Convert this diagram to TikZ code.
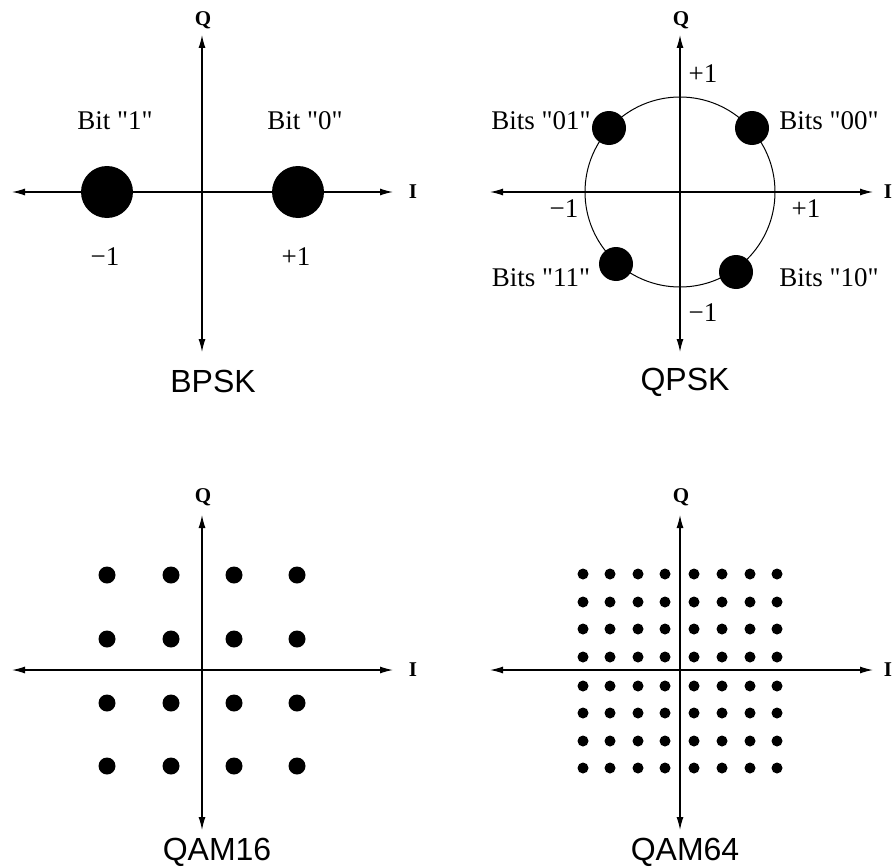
\documentclass[tikz,border=0pt]{standalone}
\usepackage{fontspec}
\setmainfont{Liberation Serif}
\newfontfamily\titlefont{Liberation Sans}
\usetikzlibrary{arrows.meta}
\newcommand{\dq}{\textquotedbl}
\begin{document}
\begin{tikzpicture}[x=1pt,y=-1pt,
  axisline/.style={line width=1.2pt,{Latex[length=13pt,width=7pt]}-{Latex[length=13pt,width=7pt]}},
  bigdot/.style={circle,fill=black,inner sep=0pt,minimum size=52pt},
  middot/.style={circle,fill=black,inner sep=0pt,minimum size=34pt},
  qdot/.style={circle,fill=black,inner sep=0pt,minimum size=17pt},
  sdot/.style={circle,fill=black,inner sep=0pt,minimum size=11pt},
  lbl/.style={inner sep=0pt,font=\fontsize{27}{31}\selectfont},
  axlbl/.style={inner sep=0pt,font=\fontsize{21}{24}\selectfont\bfseries},
  title/.style={inner sep=0pt,font=\titlefont\fontsize{32}{36}\selectfont}]
\useasboundingbox (0,0) rectangle (894,867);
% ---------- BPSK ----------
\coordinate (a1l) at (12,192); \coordinate (a1r) at (393,192);
\coordinate (a1t) at (202,35); \coordinate (a1b) at (202,352);
\draw[axisline] (a1l) -- (a1r);
\draw[axisline] (a1t) -- (a1b);
\node[axlbl] (q1) at (203,20) {Q};
\node[axlbl] (i1) at (413,192) {I};
\node[bigdot] (b1) at (107,192) {};
\node[bigdot] (b0) at (298,192) {};
\node[lbl] (tb1) at (115,121) {Bit \dq1\dq};
\node[lbl] (tb0) at (305,121) {Bit \dq0\dq};
\node[lbl] (m1) at (105,257) {−1};
\node[lbl] (p1) at (296,257) {+1};
\node[title] (t1) at (213,381) {BPSK};
% ---------- QPSK ----------
\coordinate (a2l) at (490,192); \coordinate (a2r) at (873,192);
\coordinate (a2t) at (680,35); \coordinate (a2b) at (680,352);
\draw[axisline] (a2l) -- (a2r);
\draw[axisline] (a2t) -- (a2b);
\node[draw,circle,line width=1pt,minimum size=190pt,inner sep=0pt] (circ) at (680,192) {};
\node[axlbl] (q2) at (681,20) {Q};
\node[axlbl] (i2) at (888,192) {I};
\node[middot] (s01) at (609,128) {};
\node[middot] (s00) at (752,128) {};
\node[middot] (s11) at (616,264) {};
\node[middot] (s10) at (736,272) {};
\node[lbl] (l01) at (541,121) {Bits \dq01\dq};
\node[lbl] (l00) at (829,121) {Bits \dq00\dq};
\node[lbl] (l11) at (541,278) {Bits \dq11\dq};
\node[lbl] (l10) at (829,278) {Bits \dq10\dq};
\node[lbl] (qp1) at (703,74) {+1};
\node[lbl] (qm1) at (703,313) {−1};
\node[lbl] (im1) at (564,209) {−1};
\node[lbl] (ip1) at (806,209) {+1};
\node[title] (t2) at (685,382) {QPSK};
% ---------- QAM16 ----------
\coordinate (a3l) at (12,670); \coordinate (a3r) at (393,670);
\coordinate (a3t) at (202,515); \coordinate (a3b) at (202,830);
\draw[axisline] (a3l) -- (a3r);
\draw[axisline] (a3t) -- (a3b);
\node[axlbl] (q3) at (203,497) {Q};
\node[axlbl] (i3) at (413,670) {I};
\foreach \x [count=\i] in {107,171,234,297}
  \foreach \y [count=\j] in {575,639,703,766}
    \node[qdot] (c\i\j) at (\x,\y) {};
\node[title] (t3) at (217,852) {QAM16};
% ---------- QAM64 ----------
\coordinate (a4l) at (490,670); \coordinate (a4r) at (873,670);
\coordinate (a4t) at (680,515); \coordinate (a4b) at (680,830);
\draw[axisline] (a4l) -- (a4r);
\draw[axisline] (a4t) -- (a4b);
\node[axlbl] (q4) at (681,497) {Q};
\node[axlbl] (i4) at (888,670) {I};
\foreach \x [count=\i] in {583,610,638,665,694,722,750,777}
  \foreach \y [count=\j] in {574,602,629,657,686,713,741,768}
    \node[sdot] (e\i\j) at (\x,\y) {};
\node[title] (t4) at (685,852) {QAM64};
\end{tikzpicture}
\end{document}
